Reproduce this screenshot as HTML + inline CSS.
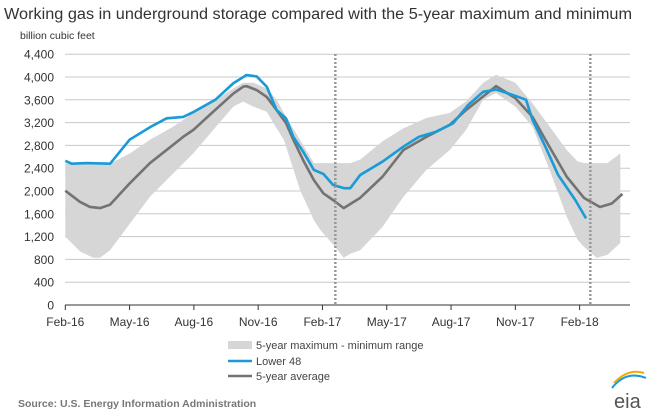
<!DOCTYPE html>
<html><head><meta charset="utf-8"><style>
body{margin:0;background:#fff;width:656px;height:413px;overflow:hidden;font-family:"Liberation Sans",sans-serif}
</style></head><body>
<svg id="chart" width="656" height="413" xmlns="http://www.w3.org/2000/svg" font-family="Liberation Sans, sans-serif">
<text x="4" y="19" font-size="15.5" fill="#333" textLength="628" lengthAdjust="spacingAndGlyphs">Working gas in underground  storage compared with the 5-year maximum and minimum</text>
<text x="20" y="39" font-size="10.5" fill="#333">billion cubic feet</text>
<g id="grid"></g><g id="band"></g><g id="lines"></g><g id="axes"></g>
<g>
<rect x="228" y="341" width="24" height="8" fill="#d6d6d6"/>
<text x="256" y="349" font-size="11" fill="#444">5-year maximum - minimum range</text>
<line x1="228" y1="361" x2="252" y2="361" stroke="#1a9ad6" stroke-width="2.5"/>
<text x="256" y="365" font-size="11" fill="#444">Lower 48</text>
<line x1="228" y1="376" x2="252" y2="376" stroke="#737373" stroke-width="2.5"/>
<text x="256" y="380" font-size="11" fill="#444">5-year average</text>
</g>
<text x="18" y="407" font-size="10.5" font-weight="bold" fill="#777">Source:  U.S. Energy Information Administration</text>
<g>
<path d="M612 388 Q626 370 646 378" stroke="#1a9ad6" stroke-width="2" fill="none"/>
<path d="M614 383 Q628 368 644 373" stroke="#f2a900" stroke-width="2" fill="none"/>
<text x="614" y="408" font-size="20" fill="#555">eia</text>
</g>
</svg>
<script>
const yTicks=[0,400,800,1200,1600,2000,2400,2800,3200,3600,4000,4400];
const xLabels=["Feb-16","May-16","Aug-16","Nov-16","Feb-17","May-17","Aug-17","Nov-17","Feb-18"];
const xLabelMonths=[0,3,6,9,12,15,18,21,24];
const dashedMonths=[12.6,24.5];
const lowerMonths=[0,0.3,1,2.09,3,4,4.73,5.5,6,7,7.84,8.46,8.93,9.4,9.86,10.3,10.64,11.1,11.6,12.04,12.5,13,13.3,13.76,14.8,15.78,16.5,17.3,18.1,18.8,19.5,20.1,21.0,21.5,21.8,22.4,23,23.8,24.3];
const lowerVals=[2530,2480,2490,2480,2900,3130,3275,3300,3390,3600,3890,4035,4010,3830,3420,3275,2950,2690,2370,2300,2105,2050,2050,2280,2515,2780,2950,3040,3190,3510,3740,3780,3670,3600,3250,2780,2280,1840,1520];
const avgMonths=[0,0.68,1.15,1.62,2.09,3.02,3.95,4.73,5.5,5.97,6.9,7.84,8.3,8.46,8.93,9.4,9.86,10.3,10.64,11.1,11.6,12.04,12.5,12.99,13.76,14.8,15.78,16.85,17.94,18.7,20.1,21.0,21.8,22.6,23.4,24.2,24.95,25.5,26.0];
const avgVals=[2005,1810,1720,1700,1760,2140,2490,2720,2950,3070,3390,3710,3830,3840,3770,3650,3420,3190,2900,2540,2190,1960,1840,1700,1880,2250,2720,2950,3160,3420,3840,3630,3300,2770,2250,1880,1720,1780,1950];
const bandMonths=[0,0.68,1.3,1.62,2.09,3.02,3.95,5.04,5.97,6.9,7.84,8.3,8.77,9.4,9.86,10.2,10.95,11.6,11.89,12.59,12.99,13.3,13.76,14.8,15.78,16.85,17.94,18.7,19.5,20.1,21.0,21.8,22.6,23.4,23.9,24.2,24.8,25.3,25.9];
const bandMax=[2490,2480,2470,2470,2480,2660,2900,3130,3370,3570,3800,3900,3900,3800,3600,3370,2900,2490,2490,2490,2490,2490,2550,2870,3100,3280,3370,3570,3900,4040,3900,3540,3130,2720,2520,2490,2490,2490,2660];
const bandMin=[1200,940,830,830,960,1430,1900,2310,2660,3070,3480,3570,3480,3390,3100,2900,2020,1490,1320,1020,830,900,960,1370,1900,2370,2720,3070,3600,3720,3480,3130,2370,1550,1150,1020,830,880,1090];
const X0=65.3,XS=21.43,Y0=305,YS=22.8/400;
const xs=m=>X0+m*XS, ys=v=>Y0-v*YS;
const NS="http://www.w3.org/2000/svg";
function mk(t,p,a){const e=document.createElementNS(NS,t);for(const k in a)e.setAttribute(k,a[k]);p.appendChild(e);return e;}
const grid=document.getElementById('grid'),axes=document.getElementById('axes');
yTicks.forEach(v=>{
 if(v>0){const g=mk('line',grid,{x1:65,x2:630,y1:ys(v),y2:ys(v),stroke:'#c8c8c8','stroke-width':1});
 
 }
 const t=mk('text',axes,{x:54,y:ys(v)+4.5,'font-size':12,fill:'#333','text-anchor':'end'});t.textContent=v.toLocaleString('en-US');
 
 
});
const ax=mk('line',axes,{x1:65,x2:630,y1:Y0,y2:Y0,stroke:'#333','stroke-width':1});


xLabels.forEach((l,i)=>{
 const x=xs(xLabelMonths[i]);
 mk('line',axes,{x1:x,x2:x,y1:Y0,y2:Y0+5,stroke:'#333'});
 const t=mk('text',axes,{x:x,y:Y0+21,'font-size':12,fill:'#333','text-anchor':'middle'});t.textContent=l;
 
 
});
dashedMonths.forEach(m=>{
 const d=mk('line',axes,{x1:xs(m),x2:xs(m),y1:54,y2:Y0,stroke:'#999','stroke-width':2.5,'stroke-dasharray':'2,2'});
 
 
});
let bd='M'+bandMonths.map((m,i)=>xs(m)+','+ys(bandMax[i])).join('L');
for(let i=bandMonths.length-1;i>=0;i--)bd+='L'+xs(bandMonths[i])+','+ys(bandMin[i]);
const band=mk('path',document.getElementById('band'),{d:bd+'Z',fill:'#d6d6d6'});


const L=document.getElementById('lines');
const avg=mk('path',L,{d:'M'+avgMonths.map((m,i)=>xs(m)+','+ys(avgVals[i])).join('L'),fill:'none',stroke:'#737373','stroke-width':2.6,'stroke-linejoin':'round'});


const low=mk('path',L,{d:'M'+lowerMonths.map((m,i)=>xs(m)+','+ys(lowerVals[i])).join('L'),fill:'none',stroke:'#1a9ad6','stroke-width':2.6,'stroke-linejoin':'round'});


</script>
</body></html>
